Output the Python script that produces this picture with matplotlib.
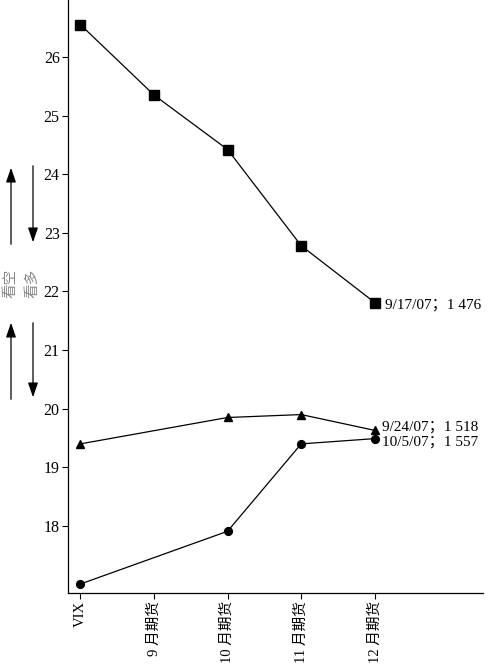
import matplotlib
matplotlib.use("Agg")
import matplotlib.pyplot as plt
import numpy as np

plt.rcParams['font.family'] = ['Liberation Serif', 'Noto Sans CJK SC', 'DejaVu Sans']

categories = ["VIX", "9 月期货", "10 月期货", "11 月期货", "12 月期货"]
sq_vals = [26.55, 25.35, 24.42, 22.78, 21.81]          # 9/17/07
tri_cats = ["VIX", "10 月期货", "11 月期货", "12 月期货"]
tri_vals = [19.40, 19.85, 19.90, 19.63]                 # 9/24/07
cir_cats = ["VIX", "10 月期货", "11 月期货", "12 月期货"]
cir_vals = [17.01, 17.91, 19.40, 19.49]                 # 10/5/07
labels = ["9/17/07；1 476", "9/24/07；1 518", "10/5/07；1 557"]
yticks = [18, 19, 20, 21, 22, 23, 24, 25, 26]

pos = {c: i for i, c in enumerate(categories)}

fig = plt.figure(figsize=(4.89, 6.71), dpi=100)
ax = fig.add_axes([68/489, 1-593/671, (483-68)/489, 593/671])

lw = 0.9
ax.plot([pos[c] for c in categories], sq_vals, color='black', lw=lw,
        marker='s', markersize=6.8, clip_on=False)
ax.plot([pos[c] for c in tri_cats], tri_vals, color='black', lw=lw,
        marker='^', markersize=6.3, clip_on=False)
ax.plot([pos[c] for c in cir_cats], cir_vals, color='black', lw=lw,
        marker='o', markersize=5.6, clip_on=False)

fs = 11.5
afs = 11
ax.annotate(labels[0], (pos[categories[-1]], sq_vals[-1]), xytext=(7, -2),
            textcoords='offset points', va='center', ha='left', fontsize=afs)
ax.annotate(labels[1], (pos[tri_cats[-1]], tri_vals[-1]), xytext=(5.5, 2.6),
            textcoords='offset points', va='center', ha='left', fontsize=afs)
ax.annotate(labels[2], (pos[cir_cats[-1]], cir_vals[-1]), xytext=(5.5, -2.6),
            textcoords='offset points', va='center', ha='left', fontsize=afs)

ax.set_xlim(-0.168, 5.47)
ax.set_ylim(16.857, 26.97)
ax.set_yticks(yticks)
ax.set_yticklabels([str(t) for t in yticks], fontsize=fs)
ax.set_xticks(range(len(categories)))
ax.set_xticklabels(categories, rotation=90, fontsize=10.5, va='top', ha='center')
ax.tick_params(direction='out', length=4, width=0.8, pad=2)
for s in ['top', 'right']:
    ax.spines[s].set_visible(False)
for s in ['left', 'bottom']:
    ax.spines[s].set_linewidth(0.9)

# left-side arrows and labels (figure pixel coords)
def arrow(x, y0, y1):
    fig.patches.append(matplotlib.patches.FancyArrowPatch(
        (x/489, 1-y0/671), (x/489, 1-y1/671), transform=fig.transFigure,
        arrowstyle='-|>,head_length=5.5,head_width=1.9', color='black', lw=0.9,
        mutation_scale=1.6))

arrow(11, 247, 165)
arrow(33, 163, 245)
arrow(11, 402, 320)
arrow(33, 320, 400)
fig.text(11/489, 1-283/671, "看空", rotation=90, ha='center', va='center',
         fontsize=10.5, color='#888888')
fig.text(33/489, 1-283/671, "看多", rotation=90, ha='center', va='center',
         fontsize=10.5, color='#888888')

fig.savefig("out.png", dpi=100)
